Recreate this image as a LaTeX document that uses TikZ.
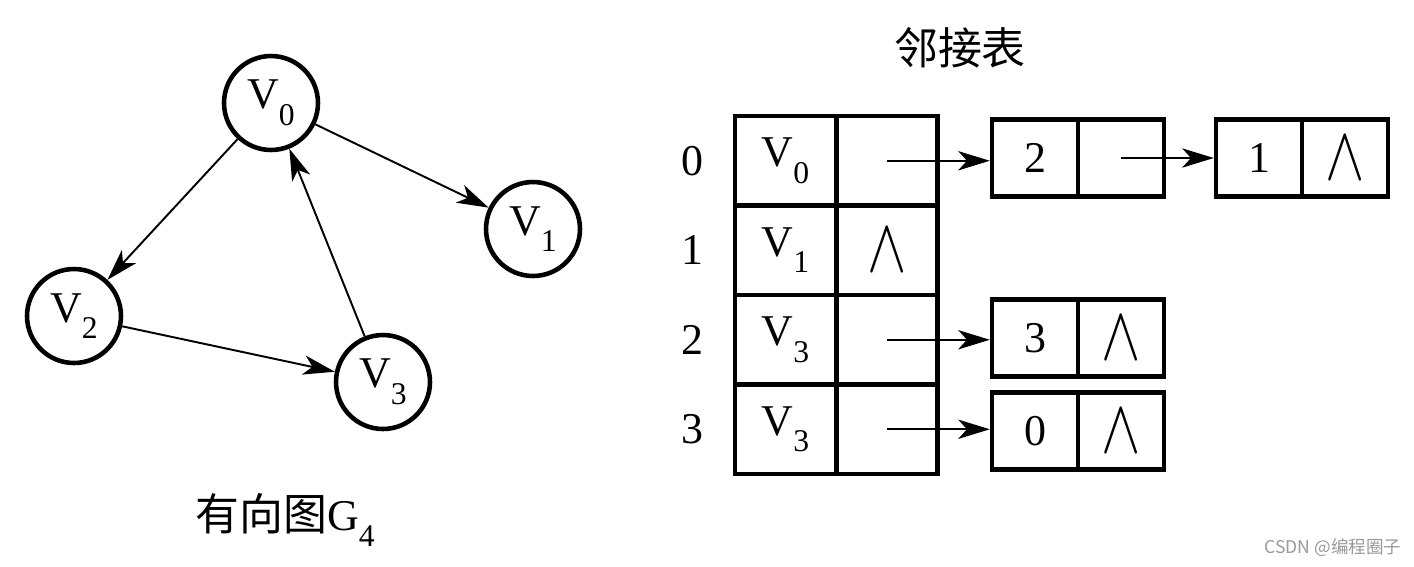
\documentclass[tikz,border=0pt]{standalone}
\usepackage{fontspec}
\setmainfont{Liberation Serif}
\newfontfamily\cjk{Noto Sans CJK SC}
\usepackage{tikz}
\usetikzlibrary{arrows.meta, positioning}
\newcommand{\vsub}[1]{V\raisebox{-0.38em}{\fontsize{18}{18}\selectfont #1}}
\newcommand{\nil}{\scalebox{1.35}[1.75]{$\wedge$}}

\begin{document}
\begin{tikzpicture}[x=0.02cm, y=-0.02cm, >={Stealth[length=18pt, width=11pt, inset=5pt]}]
    \tikzstyle{vert} = [circle, draw, line width=2.6pt, minimum size=1.88cm, inner sep=0pt, font=\fontsize{25}{25}\selectfont]
    \tikzstyle{cell} = [rectangle, draw, line width=2.5pt, minimum width=2.02cm, minimum height=1.79cm, inner sep=0pt, font=\fontsize{25}{25}\selectfont]
    \tikzstyle{link} = [rectangle, draw, line width=2.5pt, minimum width=1.72cm, minimum height=1.54cm, inner sep=0pt, font=\fontsize{25}{25}\selectfont]
    \tikzstyle{idx}  = [font=\fontsize{25}{25}\selectfont]
    \tikzstyle{title} = [font=\cjk\fontsize{25}{25}\selectfont]
    \tikzstyle{edge} = [->, line width=1.1pt]
    \useasboundingbox (0,0) rectangle (1414,566);

    % directed graph
    \node (v0) [vert] at (271,103) {\vsub{0}};
    \node (v1) [vert] at (533,229) {\vsub{1}};
    \node (v2) [vert] at (74,316)  {\vsub{2}};
    \node (v3) [vert] at (383,382) {\vsub{3}};
    \node (cap) at (285,520) {{\cjk\fontsize{25}{25}\selectfont 有向图}\fontsize{25}{25}\selectfont G\raisebox{-0.38em}{\fontsize{18}{18}\selectfont 4}};

    \draw [edge] (v0) -- (v1);
    \draw [edge] (v0) -- (v2);
    \draw [edge] (v3) -- (v0);
    \draw [edge] (v2) -- (v3);

    % adjacency list
    \node (ttl) [title] at (960,48) {邻接表};

    \node (d0) [cell] at (785.5,160.75) {\vsub{0}};
    \node (p0) [cell] at (887,160.75)   {};
    \node (d1) [cell] at (785.5,250.25) {\vsub{1}};
    \node (p1) [cell] at (887,250.25)   {\nil};
    \node (d2) [cell] at (785.5,339.75) {\vsub{3}};
    \node (p2) [cell] at (887,339.75)   {};
    \node (d3) [cell] at (785.5,429.25) {\vsub{3}};
    \node (p3) [cell] at (887,429.25)   {};

    \node (i0) [idx] at (692,160.75) {0};
    \node (i1) [idx] at (692,250.25) {1};
    \node (i2) [idx] at (692,339.75) {2};
    \node (i3) [idx] at (692,429.25) {3};

    \node (a0) [link] at (1035,158) {2};
    \node (b0) [link] at (1121,158) {};
    \node (a1) [link] at (1259,158) {1};
    \node (b1) [link] at (1345,158) {\nil};
    \node (a2) [link] at (1035,338) {3};
    \node (b2) [link] at (1121,338) {\nil};
    \node (a3) [link] at (1035,431) {0};
    \node (b3) [link] at (1121,431) {\nil};

    \draw [edge] (p0.center) -- (p0.center -| a0.west);
    \draw [edge] (b0.center) -- (a1.west);
    \draw [edge] (p2.center) -- (p2.center -| a2.west);
    \draw [edge] (p3.center) -- (p3.center -| a3.west);

    \node (mark) at (1333,548) {\cjk\fontsize{10}{10}\selectfont\color{gray!80}CSDN @编程圈子};
\end{tikzpicture}
\end{document}
